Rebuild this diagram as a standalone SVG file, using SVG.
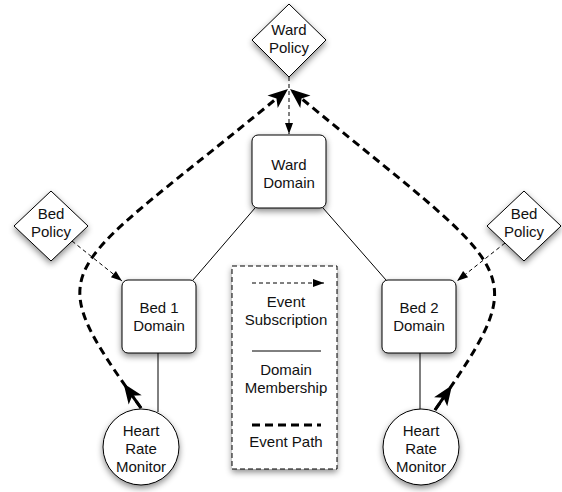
<svg xmlns="http://www.w3.org/2000/svg" width="562" height="492" viewBox="0 0 562 492">
<style>
.node{fill:#fff;stroke:#000;stroke-width:1;filter:url(#sh)}
text{font-family:"Liberation Sans",Arial,Helvetica,sans-serif;font-size:15px;fill:#111;text-anchor:middle}
.sub{fill:none;stroke:#000;stroke-width:1;stroke-dasharray:4,3}
.mem{fill:none;stroke:#000;stroke-width:1}
.ev{fill:none;stroke:#000;stroke-width:3;stroke-dasharray:8,5}
</style>
<defs>
<filter id="sh" x="-20%" y="-20%" width="140%" height="150%">
<feDropShadow dx="0" dy="3" stdDeviation="3" flood-color="#000" flood-opacity="0.45"/>
</filter>
<marker id="ta" markerUnits="userSpaceOnUse" markerWidth="11" markerHeight="8" refX="11" refY="4" orient="auto" overflow="visible">
<path d="M0,0 L11,4 L0,8 Z" fill="#000"/>
</marker>
<marker id="ea" markerUnits="userSpaceOnUse" markerWidth="20" markerHeight="16" refX="20" refY="8" orient="auto" overflow="visible">
<path d="M0,0 L20,8 L0,16 L5,8 Z" fill="#000"/>
</marker>
<marker id="es" markerUnits="userSpaceOnUse" markerWidth="32" markerHeight="16" refX="0" refY="8" orient="auto" overflow="visible">
<path d="M0,8 L14,8" stroke="#000" stroke-width="3"/>
<path d="M10,0 L30,8 L10,16 L15,8 Z" fill="#000"/>
</marker>
</defs>

<g id="connectors">
<line class="sub" x1="289" y1="77" x2="289" y2="134" marker-end="url(#ta)"/>
<line class="sub" x1="72" y1="241" x2="122" y2="281" marker-end="url(#ta)"/>
<line class="sub" x1="505" y1="243" x2="457" y2="281" marker-end="url(#ta)"/>
<line class="mem" x1="255" y1="208" x2="193" y2="280"/>
<line class="mem" x1="323" y1="208" x2="386" y2="280"/>
<line class="mem" x1="158" y1="353" x2="158" y2="412"/>
<line class="mem" x1="420" y1="353" x2="420" y2="412"/>
<path class="ev" d="M141,408 C34,258 58,280 288,89" marker-start="url(#es)" marker-end="url(#ea)"/>
<path class="ev" d="M435,410 C537,262 520,280 290,89" marker-start="url(#es)" marker-end="url(#ea)"/>
</g>

<g id="ward-policy">
<polygon class="node" points="289,4 326,40 289,77 252,40"/>
<text x="289" y="35">Ward</text>
<text x="289" y="53">Policy</text>
</g>

<g id="ward-domain">
<rect class="node" x="252" y="135" width="74" height="73" rx="6"/>
<text x="289" y="170">Ward</text>
<text x="289" y="188">Domain</text>
</g>

<g id="bed-policy-1">
<polygon class="node" points="51,191 88,226 51,261 14,226"/>
<text x="51" y="219">Bed</text>
<text x="51" y="237">Policy</text>
</g>

<g id="bed-policy-2">
<polygon class="node" points="524,191 561,226 524,261 487,226"/>
<text x="524" y="219">Bed</text>
<text x="524" y="237">Policy</text>
</g>

<g id="bed1-domain">
<rect class="node" x="122" y="280" width="74" height="73" rx="6"/>
<text x="159" y="313">Bed 1</text>
<text x="159" y="331">Domain</text>
</g>

<g id="bed2-domain">
<rect class="node" x="382" y="280" width="74" height="73" rx="6"/>
<text x="419" y="313">Bed 2</text>
<text x="419" y="331">Domain</text>
</g>

<g id="hrm-1">
<circle class="node" cx="141" cy="447" r="38"/>
<text x="141" y="436">Heart</text>
<text x="141" y="454">Rate</text>
<text x="141" y="472">Monitor</text>
</g>

<g id="hrm-2">
<circle class="node" cx="421" cy="447" r="38"/>
<text x="421" y="436">Heart</text>
<text x="421" y="454">Rate</text>
<text x="421" y="472">Monitor</text>
</g>

<g id="legend">
<rect x="232" y="266" width="105" height="203" fill="#fff" stroke="#000" stroke-width="1" stroke-dasharray="5,3" filter="url(#sh)"/>
<line class="sub" x1="252" y1="283" x2="324" y2="283" marker-end="url(#ta)"/>
<text x="286" y="307">Event</text>
<text x="286" y="325">Subscription</text>
<line class="mem" x1="252" y1="351" x2="321" y2="351"/>
<text x="286" y="375">Domain</text>
<text x="286" y="393">Membership</text>
<line x1="252" y1="425" x2="321" y2="425" stroke="#000" stroke-width="3" stroke-dasharray="8,5"/>
<text x="286" y="447">Event Path</text>
</g>
</svg>
